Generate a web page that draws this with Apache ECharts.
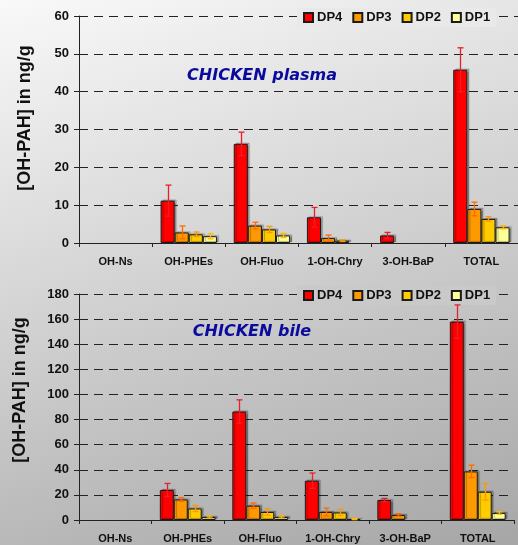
<!DOCTYPE html>
<html>
<head>
<meta charset="utf-8">
<script src="https://cdn.jsdelivr.net/npm/echarts@6/dist/echarts.min.js"></script>
<style>
html,body{margin:0;padding:0;}
#c{width:518px;height:545px;background:linear-gradient(163deg,#f9f9f9,#a6a6a6);}
</style>
</head>
<body>
<div id="c"></div>
<script>
// ---- data ----
const categories = ['OH-Ns','OH-PHEs','OH-Fluo','1-OH-Chry','3-OH-BaP','TOTAL'];
const seriesNames = ['DP4','DP3','DP2','DP1'];

const plasmaDP4 = [0, 11.2, 26.2, 6.8, 2.0, 45.8];
const plasmaDP3 = [0, 2.8, 4.6, 1.3, 0, 9.0];
const plasmaDP2 = [0, 2.3, 3.6, 0.6, 0, 6.35];
const plasmaDP1 = [0, 1.8, 2.0, 0, 0, 4.15];
const plasmaErrDP4 = [0, 4.1, 3.1, 2.6, 0.8, 5.8];
const plasmaErrDP3 = [0, 1.7, 0.9, 0.8, 0, 1.8];
const plasmaErrDP2 = [0, 0.6, 0.8, 0.2, 0, 0.6];
const plasmaErrDP1 = [0, 0.7, 0.55, 0, 0, 0.4];

const bileDP4 = [0, 23.9, 86.4, 31.3, 15.9, 158];
const bileDP3 = [0, 16.4, 11.4, 6.4, 4.0, 38.7];
const bileDP2 = [0, 9.2, 6.4, 6.0, 0, 22.5];
const bileDP1 = [0, 2.4, 2.4, 0.8, 0, 5.6];
const bileErrDP4 = [0, 5.2, 9.3, 6.1, 1.3, 13.3];
const bileErrDP3 = [0, 1.5, 2.1, 3.1, 1.0, 5.0];
const bileErrDP2 = [0, 2.4, 2.6, 2.4, 0, 6.6];
const bileErrDP1 = [0, 0.8, 0.8, 0.5, 0, 1.0];

const plasmaTicks = {min: 0, max: 60, interval: 10};
const bileTicks = {min: 0, max: 180, interval: 20};

// ---- styles ----
const barColors = ['#ff0000', '#ff9900', '#ffcc00', '#ffff99'];
const errColors = ['#e8202a', '#ff6a00', '#ff9900', '#ffbb00'];
const FONT = "'Liberation Sans', Arial, sans-serif";
const CAT_GAP = 0.23;

const chart = echarts.init(document.getElementById('c'), null, {renderer: 'canvas'});

const plasmaVals = [plasmaDP4, plasmaDP3, plasmaDP2, plasmaDP1];
const plasmaErrs = [plasmaErrDP4, plasmaErrDP3, plasmaErrDP2, plasmaErrDP1];
const bileVals = [bileDP4, bileDP3, bileDP2, bileDP1];
const bileErrs = [bileErrDP4, bileErrDP3, bileErrDP2, bileErrDP1];

function makeErr(k, gi, vals, errs) {
  return {
    type: 'custom',
    name: 'err' + seriesNames[k] + gi,
    xAxisIndex: gi, yAxisIndex: gi,
    z: 5,
    silent: true,
    data: vals.map((v, i) => [i, v, errs[i]]),
    renderItem: function (params, api) {
      const ci = api.value(0), v = api.value(1), e = api.value(2);
      if (!e) return null;
      const catW = api.size([1, 0])[0];
      const barW = catW * (1 - CAT_GAP) / 4;
      const off = (k - 1.5) * barW;
      const top = api.coord([ci, v + e]);
      const bot = api.coord([ci, Math.max(v - e, 0)]);
      const x = Math.round(top[0] + off) + 0.5;
      const st = {stroke: errColors[k], lineWidth: 1.3};
      return {
        type: 'group',
        children: [
          {type: 'line', shape: {x1: x, y1: top[1], x2: x, y2: bot[1]}, style: st},
          {type: 'line', shape: {x1: x - 3, y1: top[1], x2: x + 3, y2: top[1]}, style: st},
          {type: 'line', shape: {x1: x - 3, y1: bot[1], x2: x + 3, y2: bot[1]}, style: st}
        ]
      };
    }
  };
}

function makeBars(gi, vals) {
  return seriesNames.map((n, k) => ({
    type: 'bar',
    name: n,
    xAxisIndex: gi, yAxisIndex: gi,
    barGap: '0%',
    barCategoryGap: (CAT_GAP * 100) + '%',
    data: vals[k].map(v => (v === 0 ? '-' : v)),
    itemStyle: {
      color: barColors[k], borderColor: '#1a1a1a', borderWidth: 1,
      shadowColor: 'rgba(0,0,0,0.3)', shadowOffsetX: 2, shadowOffsetY: -1, shadowBlur: 1
    },
    emphasis: {disabled: true}
  }));
}

const series = [].concat(
  makeBars(0, plasmaVals),
  makeBars(1, bileVals),
  seriesNames.map((n, k) => makeErr(k, 0, plasmaVals[k], plasmaErrs[k])),
  seriesNames.map((n, k) => makeErr(k, 1, bileVals[k], bileErrs[k]))
);

function xAx(gi) {
  return {
    type: 'category', gridIndex: gi, data: categories,
    axisLine: {lineStyle: {color: '#222', width: 1}},
    axisTick: {show: true, length: 4, lineStyle: {color: '#222'}},
    axisLabel: {interval: 0, margin: 13, color: '#111', fontFamily: FONT, fontWeight: 'bold', fontSize: 11},
    splitLine: {show: false}
  };
}
function yAx(gi, t) {
  return {
    type: 'value', gridIndex: gi, min: t.min, max: t.max, interval: t.interval,
    axisLine: {show: true, lineStyle: {color: '#222', width: 1}},
    axisTick: {show: true, length: 5, lineStyle: {color: '#222'}},
    axisLabel: {margin: 10, color: '#111', fontFamily: FONT, fontWeight: 'bold', fontSize: 13},
    splitLine: {show: true, lineStyle: {color: '#222', width: 1, type: [9, 6]}}
  };
}
function legend(top, bg) {
  return {
    data: seriesNames,
    left: 297, top: top,
    padding: [3, 6],
    itemWidth: 9, itemHeight: 9, itemGap: 10,
    icon: 'rect',
    backgroundColor: bg,
    selectedMode: false,
    textStyle: {color: '#111', fontFamily: FONT, fontWeight: 'bold', fontSize: 13, padding: [0, 0, 0, -1]}
  };
}

const option = {
  animation: false,
  backgroundColor: 'transparent',
  grid: [
    {left: 79, right: -3, top: 16, height: 227},
    {left: 79, right: 4, top: 294, height: 226}
  ],
  xAxis: [xAx(0), xAx(1)],
  yAxis: [yAx(0, plasmaTicks), yAx(1, bileTicks)],
  legend: [legend(8, '#e9e9e9'), legend(286, '#c9c9c9')],
  series: series,
  graphic: [
    {type: 'text', x: 262, y: 76, z: 10, style: {text: 'CHICKEN plasma', fill: '#0a0a9c', font: "italic bold 16px 'DejaVu Sans', sans-serif", textAlign: 'center', textVerticalAlign: 'middle'}},
    {type: 'text', x: 252, y: 332, z: 10, style: {text: 'CHICKEN bile', fill: '#0a0a9c', font: "italic bold 16px 'DejaVu Sans', sans-serif", textAlign: 'center', textVerticalAlign: 'middle'}},
    {type: 'text', x: 25, y: 118, rotation: Math.PI / 2, z: 10, style: {text: '[OH-PAH] in ng/g', fill: '#111', font: "bold 18px 'Liberation Sans', Arial, sans-serif", textAlign: 'center', textVerticalAlign: 'middle'}},
    {type: 'text', x: 20, y: 390, rotation: Math.PI / 2, z: 10, style: {text: '[OH-PAH] in ng/g', fill: '#111', font: "bold 18px 'Liberation Sans', Arial, sans-serif", textAlign: 'center', textVerticalAlign: 'middle'}}
  ]
};
chart.setOption(option);
</script>
</body>
</html>
